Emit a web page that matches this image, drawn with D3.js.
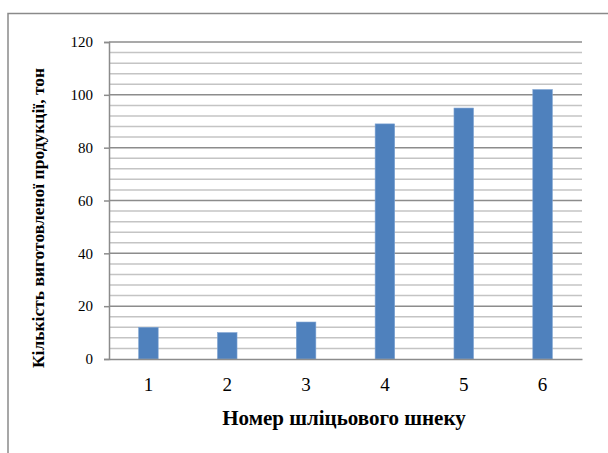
<!DOCTYPE html>
<html>
<head>
<meta charset="utf-8">
<script src="https://cdn.jsdelivr.net/npm/d3@7"></script>
<style>
  body { margin: 0; background: #fff; }
  svg { display: block; }
  text { font-family: "Liberation Serif", "Times New Roman", serif; }
</style>
</head>
<body>
<svg id="chart" width="608" height="453"></svg>
<script>
// data
const categories = ["1", "2", "3", "4", "5", "6"];
const values = [12, 10, 14, 89, 95, 102];
const majorTicks = [0, 20, 40, 60, 80, 100, 120];
const minorTicks = d3.range(0, 121, 4);

const xTitle = "Номер шліцьового шнеку";
const yTitle = "Кількість виготовленої продукції, тон";

const svg = d3.select("#chart");

// outer frame (only top and left visible in the picture)
svg.append("path")
    .attr("d", "M8,453 V13.5 H608")
    .attr("fill", "none")
    .attr("stroke", "#8a8a8a")
    .attr("stroke-width", 1.5);

const margin = { top: 42, left: 109, right: 582, bottom: 359 };

const x = d3.scaleBand()
    .domain(categories)
    .range([margin.left, margin.right])
    .padding(0);

const y = d3.scaleLinear()
    .domain([0, 120])
    .range([margin.bottom, margin.top]);

// minor gridlines
svg.append("g")
    .selectAll("line")
    .data(minorTicks.filter(v => v % 20 !== 0))
    .enter().append("line")
    .attr("x1", margin.left).attr("x2", margin.right)
    .attr("y1", d => y(d)).attr("y2", d => y(d))
    .attr("stroke", "#c4c4c4")
    .attr("stroke-width", 1.5);

// major gridlines
svg.append("g")
    .selectAll("line")
    .data(majorTicks.filter(v => v > 0))
    .enter().append("line")
    .attr("x1", margin.left).attr("x2", margin.right)
    .attr("y1", d => y(d)).attr("y2", d => y(d))
    .attr("stroke", "#8c8c8c")
    .attr("stroke-width", 1.5);

// bars
const bw = x.bandwidth();
svg.append("g")
    .selectAll("rect")
    .data(values)
    .enter().append("rect")
    .attr("x", (d, i) => x(categories[i]) + bw * 0.376)
    .attr("y", d => y(d))
    .attr("width", bw * 0.248)
    .attr("height", d => y(0) - y(d))
    .attr("fill", "#4f81bd")
    .attr("stroke", "#7ea3d3")
    .attr("stroke-width", 0.6);

// y axis
const yAxis = svg.append("g")
    .attr("transform", `translate(${margin.left},0)`)
    .call(d3.axisLeft(y).tickValues(majorTicks).tickSize(5).tickPadding(11));
yAxis.attr("font-family", null);
yAxis.select(".domain").attr("stroke", "#8c8c8c").attr("stroke-width", 1.5);
yAxis.selectAll(".tick line").attr("stroke", "#8c8c8c").attr("stroke-width", 1.5);
yAxis.selectAll(".tick text")
    .attr("font-size", 15)
    .attr("fill", "#000");

// x axis
const xAxis = svg.append("g")
    .attr("transform", `translate(0,${margin.bottom})`)
    .call(d3.axisBottom(x).tickSize(0).tickPadding(19));
xAxis.attr("font-family", null);
xAxis.select(".domain").attr("stroke", "#8c8c8c").attr("stroke-width", 1.5);
xAxis.selectAll(".tick text")
    .attr("font-size", 19)
    .attr("fill", "#000");

// axis titles
svg.append("text")
    .attr("x", 344)
    .attr("y", 425)
    .attr("text-anchor", "middle")
    .attr("font-weight", "bold")
    .attr("font-size", 21)
    .text(xTitle);

svg.append("text")
    .attr("transform", "translate(44,218) rotate(-90)")
    .attr("text-anchor", "middle")
    .attr("font-weight", "bold")
    .attr("font-size", 17.5)
    .text(yTitle);
</script>
</body>
</html>
